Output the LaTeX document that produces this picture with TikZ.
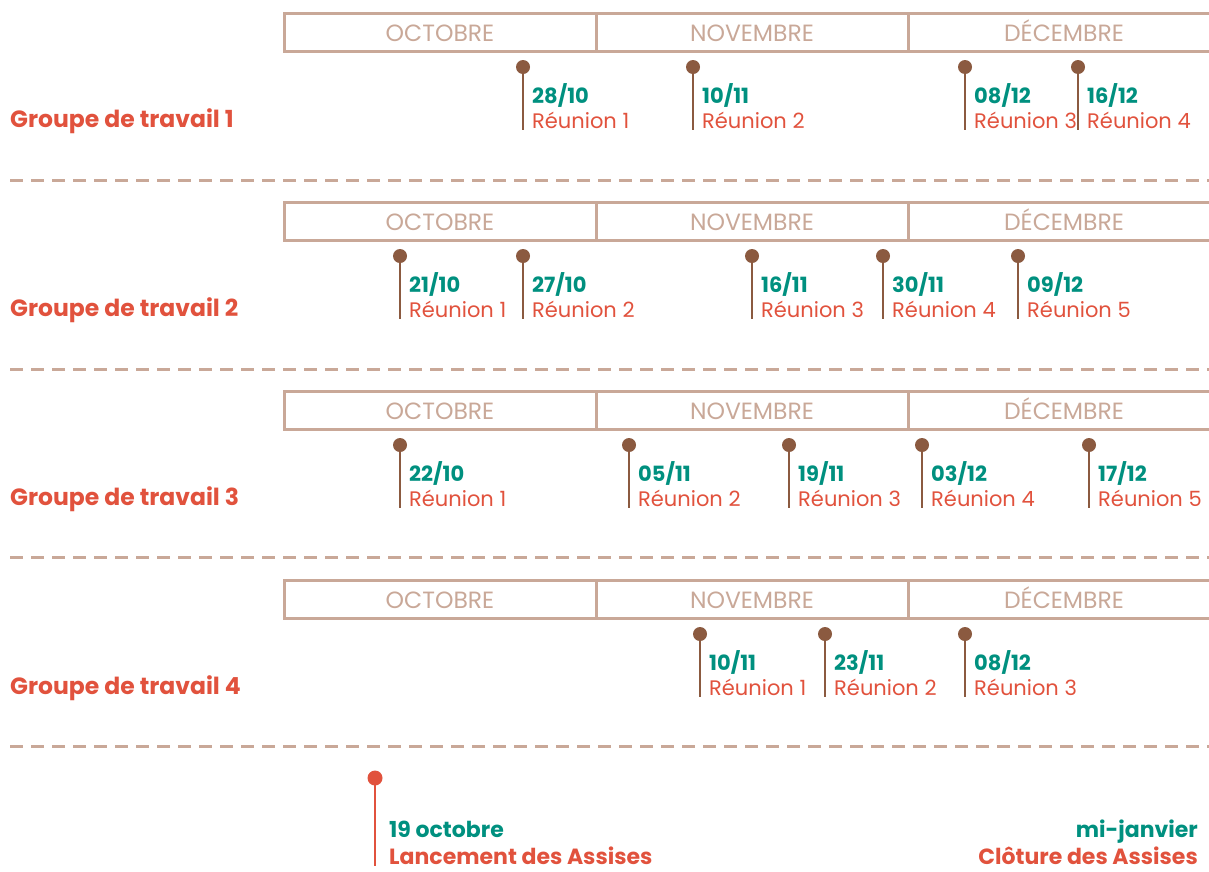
\documentclass[tikz,border=0pt]{standalone}
\usepackage{fontspec}
\setmainfont{Poppins}
\definecolor{tanc}{HTML}{C9A898}
\definecolor{dotc}{HTML}{8B5A40}
\definecolor{greenc}{HTML}{00907F}
\definecolor{redc}{HTML}{E1523D}
\tikzset{
  barline/.style={draw=tanc, line width=3pt},
  sepline/.style={draw=tanc, line width=3pt, dash pattern=on 13pt off 8pt},
  month/.style={text=tanc, font=\fontsize{23.5}{26}\selectfont, inner sep=0pt},
  grp/.style={text=redc, font=\fontsize{23.5}{26}\selectfont\bfseries, anchor=base west, inner sep=0pt},
  dot/.style={circle, fill=dotc, minimum size=14pt, inner sep=0pt},
  stem/.style={draw=dotc, line width=2pt},
  datel/.style={text=greenc, font=\fontsize{21}{24}\selectfont\bfseries, anchor=base west, inner sep=0pt},
  reul/.style={text=redc, font=\fontsize{21}{24}\selectfont, anchor=base west, inner sep=0pt},
  bigdate/.style={text=greenc, font=\fontsize{22}{26}\selectfont\bfseries, inner sep=0pt},
  bigl/.style={text=redc, font=\fontsize{22}{26}\selectfont\bfseries, inner sep=0pt, text depth=0pt},
}
\newcommand\evt[5]{%
  \node[dot] (#1d) at (#2,#3) {};
  \coordinate (#1e) at (#2,#3+63);
  \draw[stem] (#1d.center) -- (#1e);
  \node[datel] (#1t) at (#2+9,#3+36) {#4};
  \node[reul] (#1r) at (#2+9,#3+61) {#5};
}
\newcommand\monthbar[2]{%
  \draw[barline] (1209,#2) -- (284,#2) -- (284,#2+38) -- (1209,#2+38);
  \draw[barline] (596,#2) -- (596,#2+38);
  \draw[barline] (908,#2) -- (908,#2+38);
  \node[month, anchor=base] (#1oct) at (440,#2+28) {OCTOBRE};
  \node[month, anchor=base] (#1nov) at (752,#2+28) {NOVEMBRE};
  \node[month, anchor=base] (#1dec) at (1064,#2+28) {DÉCEMBRE};
}
\begin{document}
\begin{tikzpicture}[x=1pt,y=-1pt]
\useasboundingbox (0,0) rectangle (1209,871);
% group 1
\monthbar{ga}{13}
\node[grp] (g1) at (10,127) {Groupe de travail 1};
\evt{a1}{523}{67}{28/10}{Réunion 1}
\evt{a2}{693}{67}{10/11}{Réunion 2}
\evt{a3}{965}{67}{08/12}{Réunion 3}
\evt{a4}{1078}{67}{16/12}{Réunion 4}
\coordinate (s1a) at (10,180); \coordinate (s1b) at (1209,180);
\draw[sepline] (s1a) -- (s1b);
% group 2
\monthbar{gb}{202}
\node[grp] (g2) at (10,316) {Groupe de travail 2};
\evt{b1}{400}{256}{21/10}{Réunion 1}
\evt{b2}{523}{256}{27/10}{Réunion 2}
\evt{b3}{752}{256}{16/11}{Réunion 3}
\evt{b4}{883}{256}{30/11}{Réunion 4}
\evt{b5}{1018}{256}{09/12}{Réunion 5}
\coordinate (s2a) at (10,369); \coordinate (s2b) at (1209,369);
\draw[sepline] (s2a) -- (s2b);
% group 3
\monthbar{gc}{391}
\node[grp] (g3) at (10,505) {Groupe de travail 3};
\evt{c1}{400}{445}{22/10}{Réunion 1}
\evt{c2}{629}{445}{05/11}{Réunion 2}
\evt{c3}{789}{445}{19/11}{Réunion 3}
\evt{c4}{922}{445}{03/12}{Réunion 4}
\evt{c5}{1089}{445}{17/12}{Réunion 5}
\coordinate (s3a) at (10,557); \coordinate (s3b) at (1209,557);
\draw[sepline] (s3a) -- (s3b);
% group 4
\monthbar{gd}{580}
\node[grp] (g4) at (10,694) {Groupe de travail 4};
\evt{d1}{700}{634}{10/11}{Réunion 1}
\evt{d2}{825}{634}{23/11}{Réunion 2}
\evt{d3}{965}{634}{08/12}{Réunion 3}
\coordinate (s4a) at (10,746); \coordinate (s4b) at (1209,746);
\draw[sepline] (s4a) -- (s4b);
% bottom
\node[circle, fill=redc, minimum size=15pt, inner sep=0pt] (launch) at (375,778) {};
\coordinate (launche) at (375,866);
\draw[draw=redc, line width=2.5pt] (launch.center) -- (launche);
\node[bigdate, anchor=base west] (ld) at (389,837) {19 octobre};
\node[bigl, anchor=base west] (ll) at (389,864) {Lancement des Assises};
\node[bigdate, anchor=base east] (cd) at (1198,837) {mi-janvier};
\node[bigl, anchor=base east] (cl) at (1198,864) {Clôture des Assises};
\end{tikzpicture}
\end{document}
